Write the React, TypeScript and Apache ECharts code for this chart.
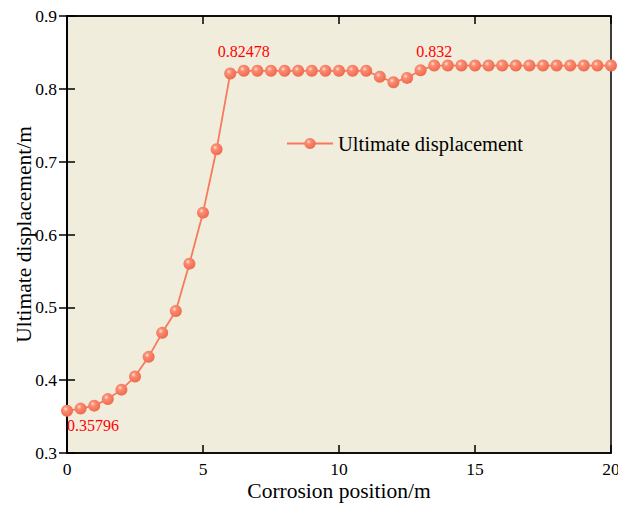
import React, { useEffect, useRef } from "react";
import * as echarts from "echarts";

const positions = [
  0, 0.5, 1, 1.5, 2, 2.5, 3, 3.5, 4, 4.5, 5, 5.5, 6, 6.5, 7, 7.5, 8, 8.5, 9, 9.5,
  10, 10.5, 11, 11.5, 12, 12.5, 13, 13.5, 14, 14.5, 15, 15.5, 16, 16.5, 17, 17.5,
  18, 18.5, 19, 19.5, 20,
];
const displacement = [
  0.35796, 0.361, 0.365, 0.374, 0.387, 0.405, 0.432, 0.465, 0.495, 0.56, 0.63,
  0.717, 0.821, 0.82478, 0.82478, 0.82478, 0.82478, 0.82478, 0.82478, 0.82478,
  0.82478, 0.82478, 0.82478, 0.8165, 0.809, 0.815, 0.8256, 0.832, 0.832, 0.832,
  0.832, 0.832, 0.832, 0.832, 0.832, 0.832, 0.832, 0.832, 0.832, 0.832, 0.832,
];
// indices of annotated points
const annotated = [
  { index: 0, position: "bottom", distance: 1, align: "left" },
  { index: 13, position: "top", distance: 5, align: "center" },
  { index: 27, position: "top", distance: 0, align: "center" },
];
const seriesName = "Ultimate displacement";
const xName = "Corrosion position/m";
const yName = "Ultimate displacement/m";

const FONT = "Liberation Serif";

export default function App() {
  const ref = useRef<HTMLDivElement>(null);
  useEffect(() => {
    if (!ref.current) return;
    const chart = echarts.init(ref.current, null, { renderer: "svg" });
    const data = positions.map((x, i) => {
      const a = annotated.find((d) => d.index === i);
      const item: any = { value: [x, displacement[i]] };
      if (a) {
        item.label = {
          show: true,
          position: a.position,
          distance: a.distance,
          align: a.align,
          color: "#FF0000",
          fontSize: 16,
          fontFamily: FONT,
          formatter: (p: any) => String(p.value[1]),
        };
      }
      return item;
    });
    const markerFill = new echarts.graphic.RadialGradient(0.38, 0.35, 0.65, [
      { offset: 0, color: "#FFE2D8" },
      { offset: 0.3, color: "#FB8C72" },
      { offset: 1, color: "#EF6A4E" },
    ]);
    const axisCommon = {
      axisLine: { show: true, lineStyle: { color: "#000", width: 1.5 } },
      axisTick: { show: true, inside: true, length: 8, lineStyle: { color: "#000", width: 1.5 } },
      splitLine: { show: false },
    };
    chart.setOption({
      animation: false,
      backgroundColor: "#fff",
      grid: {
        left: 67,
        right: 7,
        top: 16,
        bottom: 52,
        outerBoundsMode: "none",
        containLabel: false,
        show: true,
        backgroundColor: "#F0EDDC",
        borderColor: "#000",
        borderWidth: 1.5,
      },
      legend: {
        show: true,
        left: 281,
        top: 128,
        itemWidth: 46,
        itemHeight: 14,
        textStyle: { fontSize: 20.5, fontFamily: FONT, color: "#000" },
        data: [seriesName],
      },
      xAxis: [
        {
          type: "value",
          min: 0,
          max: 20,
          interval: 5,
          name: xName,
          nameLocation: "middle",
          nameGap: 27,
          nameMoveOverlap: false,
          nameTextStyle: { fontSize: 21.5, fontFamily: FONT, color: "#000" },
          axisLabel: { fontSize: 17.5, fontFamily: FONT, color: "#000", margin: 7 },
          ...axisCommon,
        },
        {
          type: "value",
          position: "top",
          min: 0,
          max: 20,
          interval: 5,
          axisLabel: { show: false },
          ...axisCommon,
        },
      ],
      yAxis: [
        {
          type: "value",
          min: 0.3,
          max: 0.9,
          interval: 0.1,
          name: yName,
          nameLocation: "middle",
          nameGap: 32,
          nameMoveOverlap: false,
          nameTextStyle: { fontSize: 21.5, fontFamily: FONT, color: "#000" },
          axisLabel: {
            fontSize: 17.5,
            fontFamily: FONT,
            color: "#000",
            margin: 10,
            formatter: (v: number) => v.toFixed(1),
          },
          ...axisCommon,
        },
        {
          type: "value",
          position: "right",
          min: 0.3,
          max: 0.9,
          interval: 0.1,
          axisLabel: { show: false },
          ...axisCommon,
        },
      ],
      series: [
        {
          name: seriesName,
          type: "line",
          data,
          symbol: "circle",
          symbolSize: 12,
          clip: false,
          lineStyle: { color: "#F8795C", width: 1.8 },
          itemStyle: { color: markerFill, borderWidth: 0 },
          label: { show: false },
        },
      ],
    });
    return () => chart.dispose();
  }, []);
  return (
    <div
      ref={ref}
      style={{ position: "fixed", left: 0, top: 0, width: 618, height: 505 }}
    />
  );
}
